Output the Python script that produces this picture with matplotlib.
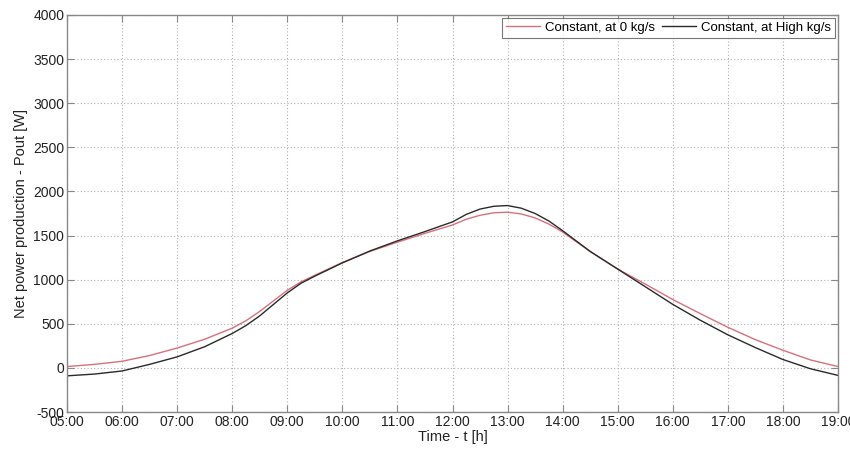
import matplotlib
matplotlib.use("Agg")
import matplotlib.pyplot as plt

plt.rcParams['font.family'] = ['Liberation Sans', 'DejaVu Sans']
plt.rcParams['axes.unicode_minus'] = False

# time in hours
hours = [5.0, 5.5, 6.0, 6.5, 7.0, 7.5, 8.0, 8.25, 8.5, 8.75, 9.0, 9.25, 9.5, 10.0,
         10.5, 11.0, 11.5, 12.0, 12.25, 12.5, 12.75, 13.0, 13.25, 13.5, 13.75,
         14.0, 14.5, 15.0, 15.5, 16.0, 16.5, 17.0, 17.5, 18.0, 18.5, 19.0]
p_zero = [15, 40, 75, 140, 225, 325, 450, 535, 640, 760, 880, 975, 1050, 1195,
          1320, 1425, 1525, 1620, 1685, 1730, 1758, 1765, 1745, 1700, 1630,
          1540, 1320, 1120, 950, 775, 615, 460, 320, 200, 90, 15]
p_high = [-90, -70, -35, 40, 125, 240, 390, 480, 590, 720, 850, 960, 1040, 1190,
          1325, 1440, 1545, 1655, 1740, 1800, 1832, 1840, 1810, 1750, 1665,
          1555, 1320, 1120, 920, 720, 540, 375, 230, 95, -10, -85]
xtick_hours = list(range(5, 20))
xtick_labels = ["%02d:00" % h for h in xtick_hours]
yticks = [-500, 0, 500, 1000, 1500, 2000, 2500, 3000, 3500, 4000]

fig = plt.figure(figsize=(8.5, 4.53), dpi=100)
ax = fig.add_axes([67/850, 41/453, (838-67)/850, (412-15)/453])

ax.plot(hours, p_zero, color='#d8707c', lw=1.0, label='Constant, at 0 kg/s')
ax.plot(hours, p_high, color='#2a2a2a', lw=1.0, label='Constant, at High kg/s')

ax.set_xlim(5, 19)
ax.set_ylim(-500, 4000)
ax.set_xticks(xtick_hours)
ax.set_xticklabels(xtick_labels)
ax.set_yticks(yticks)
ax.grid(True, linestyle=(0, (1, 2)), color='#b0b0b0', lw=0.8)
ax.tick_params(direction='in', top=True, right=True, labelsize=10, length=5,
               color='#888888', labelcolor='#222222', pad=2)
for s in ax.spines.values():
    s.set_color('#888888')
    s.set_linewidth(1.0)

ax.set_xlabel('Time - t [h]', fontsize=10.5, color='#222222', labelpad=1)
ax.set_ylabel('Net power production - Pout [W]', fontsize=10.5, color='#222222', labelpad=4)

leg = ax.legend(loc='upper right', ncol=2, fontsize=9.5, frameon=True, fancybox=False,
                edgecolor='#555555', handlelength=2.6, handletextpad=0.4,
                columnspacing=0.5, borderaxespad=0.2, borderpad=0.3)
leg.get_frame().set_linewidth(0.8)

fig.savefig('out.png', dpi=100)
